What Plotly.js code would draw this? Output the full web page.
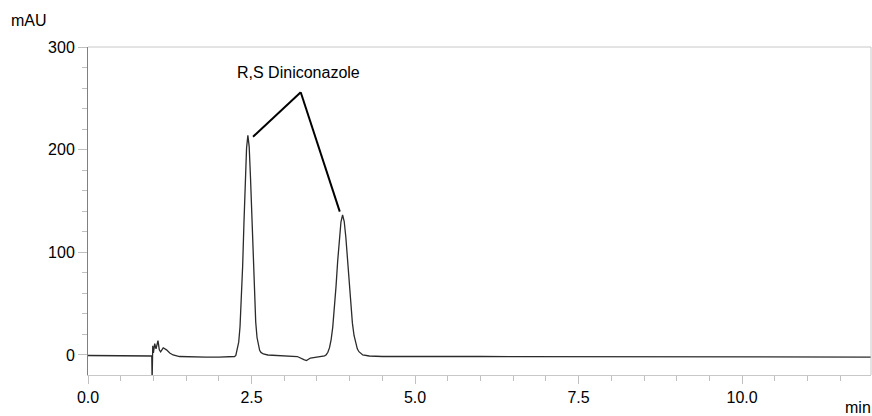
<!DOCTYPE html>
<html>
<head>
<meta charset="utf-8">
<script src="https://cdn.plot.ly/plotly-3.0.1.min.js"></script>
<style>html,body{margin:0;padding:0;background:#fff;}#chart{width:872px;height:416px;}</style>
</head>
<body>
<div id="chart"></div>
<script>
// Retention time (min)
var timeMin = [
  0.00, 0.50, 0.96, 0.975, 0.98, 0.99, 1.00, 1.02, 1.04, 1.07, 1.09, 1.11, 1.15, 1.20, 1.25, 1.30, 1.40, 1.60, 1.80, 2.00, 2.20, 2.24, 2.26,
  2.264, 2.284, 2.304, 2.324, 2.344, 2.364, 2.384, 2.404, 2.424, 2.444, 2.464, 2.484, 2.504, 2.524, 2.544, 2.564, 2.584, 2.604, 2.624, 2.644, 2.68, 2.75,
  2.90, 3.10, 3.20, 3.30, 3.34, 3.40, 3.50, 3.60,
  3.617, 3.642, 3.667, 3.692, 3.717, 3.742, 3.767, 3.792, 3.817, 3.842, 3.867, 3.892, 3.917, 3.942, 3.967, 3.992, 4.017, 4.042, 4.067, 4.092, 4.117, 4.142, 4.167, 4.20,
  4.30, 4.50, 6.00, 8.00, 10.00, 11.97
];
// Detector signal (mAU)
var signalMAU = [
  -0.5, -0.5, -0.5, -1, -25, 9, 2, 11, 6, 14, 5, 3, 7, 5, 2, 0, -1.5, -2, -2, -2, -1.5, -1.5, -0.5,
  1, 4.5, 12.5, 27.5, 52.5, 86.5, 128.5, 170.5, 201.5, 214, 203, 173, 132, 91, 57, 32, 17, 8.5, 4.5, 2.5, 1, 0,
  -0.5, -1, -1.5, -4.5, -5.5, -3, -2, -1.5,
  -0.8, 0.3, 2.6, 7.1, 15, 27.4, 45, 67.1, 91.5, 113.5, 129.5, 136.5, 130, 114.5, 93, 69.5, 48, 31, 19, 11, 6, 3.2, 1.5, 0,
  -1, -1.5, -1.5, -1.8, -1.8, -2
];
var xTickVals = [0, 2.5, 5.0, 7.5, 10.0];
var xTickText = ["0.0", "2.5", "5.0", "7.5", "10.0"];
var yTickVals = [0, 100, 200, 300];
var peakLabel = "R,S Diniconazole";

var FONT = "Liberation Sans, Arial, Helvetica, sans-serif";

var trace = {
  x: timeMin, y: signalMAU, type: "scatter", mode: "lines",
  line: {color: "#2b2b2b", width: 1.3, shape: "linear"},
  hoverinfo: "skip", showlegend: false
};

var layout = {
  width: 872, height: 416,
  margin: {l: 88.3, r: 1, t: 47, b: 41, pad: 0},
  paper_bgcolor: "#fff", plot_bgcolor: "#fff",
  font: {family: FONT, size: 16, color: "#000"},
  showlegend: false,
  xaxis: {
    range: [0, 11.97], showgrid: false, zeroline: false,
    showline: true, linecolor: "#c8c8c8", linewidth: 1,
    ticks: "outside", ticklen: 8, tickcolor: "#c0c0c0", tickwidth: 1,
    tickvals: xTickVals, ticktext: xTickText,
    tickfont: {family: FONT, size: 16, color: "#000"},
    minor: {dtick: 0.5, tick0: 0, ticks: "outside", ticklen: 5, tickcolor: "#c0c0c0", showgrid: false}
  },
  yaxis: {
    range: [-19.5, 300], showgrid: false, zeroline: false,
    showline: true, linecolor: "#808080", linewidth: 1,
    ticks: "outside", ticklen: 9, tickcolor: "#c0c0c0", tickwidth: 1,
    tickvals: yTickVals,
    tickfont: {family: FONT, size: 16, color: "#000"},
    minor: {dtick: 20, tick0: 0, ticks: "outside", ticklen: 5, tickcolor: "#c0c0c0", showgrid: false}
  },
  shapes: [
    {type: "line", xref: "paper", yref: "paper", x0: 0, x1: 1, y0: 1, y1: 1, line: {color: "#c8c8c8", width: 1}},
    {type: "line", xref: "paper", yref: "paper", x0: 1, x1: 1, y0: 0, y1: 1, line: {color: "#c8c8c8", width: 1}},
    {type: "line", xref: "x", yref: "y", x0: 3.252, y0: 255.9, x1: 2.523, y1: 212.6, line: {color: "#000", width: 2}},
    {type: "line", xref: "x", yref: "y", x0: 3.252, y0: 255.9, x1: 3.849, y1: 139.6, line: {color: "#000", width: 2}}
  ],
  annotations: [
    {text: peakLabel, xref: "x", yref: "y", x: 3.213, y: 274.7, showarrow: false, xanchor: "center", yanchor: "middle",
     font: {family: FONT, size: 16, color: "#000"}},
    {text: "mAU", xref: "paper", yref: "paper", x: -0.1015, y: 1.082, showarrow: false, xanchor: "left", yanchor: "middle",
     font: {family: FONT, size: 16, color: "#000"}},
    {text: "min", xref: "paper", yref: "paper", x: 1.003, y: -0.1006, showarrow: false, xanchor: "right", yanchor: "middle",
     font: {family: FONT, size: 16, color: "#000"}}
  ]
};

Plotly.newPlot("chart", [trace], layout, {staticPlot: true, displayModeBar: false});
</script>
</body>
</html>
